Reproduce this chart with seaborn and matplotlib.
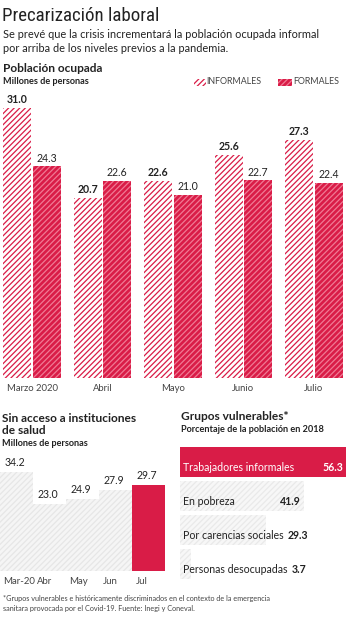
import matplotlib
matplotlib.use("Agg")
import matplotlib.pyplot as plt
import seaborn as sns
import pandas as pd
from matplotlib.patches import Rectangle
from matplotlib import font_manager as fm

# ---------------- data ----------------
meses = ["Marzo 2020", "Abril", "Mayo", "Junio", "Julio"]
informales = [31.0, 20.7, 22.6, 25.6, 27.3]
formales = [24.3, 22.6, 21.0, 22.7, 22.4]

salud_meses = ["Mar-20", "Abr", "May", "Jun", "Jul"]
salud_valores = [34.2, 23.0, 24.9, 27.9, 29.7]

grupos = ["Trabajadores informales", "En pobreza", "Por carencias sociales", "Personas desocupadas"]
grupos_valores = [56.3, 41.9, 29.3, 3.7]

# ---------------- style ----------------
sns.set_theme(style="white")
plt.rcParams['font.family'] = ['Lato', 'DejaVu Sans']
plt.rcParams['hatch.linewidth'] = 0.9

RED = "#d91c47"
PINK = "#f07a94"
DARK = "#222222"
GRAY_TXT = "#444444"
HATCH = "//////"

# pick a condensed face for the headline
title_kw = None
names = {f.name for f in fm.fontManager.ttflist}
for cand in ['Roboto Condensed', 'Liberation Sans Narrow', 'Open Sans Condensed']:
    if cand in names:
        title_kw = dict(family=[cand, 'DejaVu Sans'], fontsize=17)
        break
if title_kw is None:
    title_kw = dict(family=['Roboto', 'DejaVu Sans'], fontsize=14, fontweight='medium')

W, H = 346, 620
fig = plt.figure(figsize=(W / 100, H / 100), dpi=100)
fig.patch.set_facecolor("white")


def rect(x0, y0, x1, y1):
    return [x0 / W, 1 - y1 / H, (x1 - x0) / W, (y1 - y0) / H]


def ftxt(x, y, s, **kw):
    return fig.text(x / W, 1 - y / H, s, **kw)


def is_red(p):
    return all(abs(a - b) < 0.01 for a, b in zip(p.get_facecolor()[:3], matplotlib.colors.to_rgb(RED)))


# ---------------- header ----------------
title = ftxt(2, 16, "Precarización laboral", color=DARK, va="center", ha="left", **title_kw)
ftxt(3, 34, "Se prevé que la crisis incrementará la población ocupada informal",
     fontsize=7.9, color=DARK, va="center")
ftxt(3, 48, "por arriba de los niveles previos a la pandemia.",
     fontsize=7.9, color=DARK, va="center")
ftxt(3, 68, "Población ocupada", fontsize=8.6, fontweight="bold", color=DARK, va="center")
ftxt(3, 82, "Millones de personas", fontsize=6.6, fontweight="bold", color=DARK, va="center")

# fit headline width to ~158 px
fig.canvas.draw()
_r = fig.canvas.get_renderer()
_w = title.get_window_extent(_r).width
if _w > 0:
    title.set_fontsize(title.get_fontsize() * 158 / _w)

# legend
fig.add_artist(Rectangle((194 / W, 1 - 86 / H), 12 / W, 7 / H, transform=fig.transFigure,
                         facecolor="white", edgecolor=RED, hatch=HATCH, linewidth=0))
ftxt(206, 82, "INFORMALES", fontsize=6.4, color=GRAY_TXT, va="center")
fig.add_artist(Rectangle((278 / W, 1 - 86 / H), 14 / W, 7 / H, transform=fig.transFigure,
                         facecolor=RED, edgecolor=PINK, hatch=HATCH, linewidth=0))
ftxt(293, 82, "FORMALES", fontsize=6.4, color=GRAY_TXT, va="center")

# ---------------- main chart ----------------
ax = fig.add_axes(rect(0, 100, 346, 378))
df = pd.DataFrame({
    "mes": meses * 2,
    "valor": informales + formales,
    "tipo": ["Informales"] * len(meses) + ["Formales"] * len(meses),
})
sns.barplot(data=df, x="mes", y="valor", hue="tipo", order=meses,
            hue_order=["Informales", "Formales"], palette=["white", RED], saturation=1,
            width=0.83, gap=0.05, legend=False, ax=ax, linewidth=0)
for p in ax.containers[0]:
    p.set_facecolor("white")
    p.set_edgecolor(RED)
    p.set_hatch(HATCH)
    p.set_linewidth(0)
for p in ax.containers[1]:
    p.set_facecolor(RED)
    p.set_edgecolor(PINK)
    p.set_hatch(HATCH)
    p.set_linewidth(0)
ax.bar_label(ax.containers[0], fmt="%.1f", padding=2, fontsize=7.6, fontweight="bold", color=DARK)
ax.bar_label(ax.containers[1], fmt="%.1f", padding=2, fontsize=7.6, color=DARK)
ax.set_xlim(-0.454, 4.454)
ax.set_ylim(0, 31.92)
ax.set_yticks([])
ax.set_xlabel("")
ax.set_ylabel("")
ax.tick_params(axis="x", length=0, pad=4, labelsize=6.8, labelcolor=GRAY_TXT)
sns.despine(ax=ax, left=True, bottom=True)
ax.set_facecolor("none")

# ---------------- lower left chart ----------------
ftxt(2, 418, "Sin acceso a instituciones", fontsize=8.6, fontweight="bold", color=DARK, va="center")
ftxt(2, 431, "de salud", fontsize=8.6, fontweight="bold", color=DARK, va="center")
ftxt(2, 443, "Millones de personas", fontsize=6.6, fontweight="bold", color=DARK, va="center")

ax2 = fig.add_axes(rect(0, 460, 165, 571))
df2 = pd.DataFrame({"mes": salud_meses, "valor": salud_valores})
cols2 = ["#f5f5f5"] * (len(salud_meses) - 1) + [RED]
sns.barplot(data=df2, x="mes", y="valor", hue="mes", order=salud_meses, palette=cols2,
            saturation=1, width=1.0, legend=False, ax=ax2, linewidth=0)
for cont in ax2.containers:
    for p in cont:
        if not is_red(p):
            p.set_edgecolor("#e6e6e6")
            p.set_hatch(HATCH)
            p.set_linewidth(0)
ax2.set_xlim(-0.5, 4.5)
ax2.set_ylim(0, 38.3)
ax2.set_yticks([])
ax2.set_xticks([])
ax2.set_xlabel("")
ax2.set_ylabel("")
sns.despine(ax=ax2, left=True, bottom=True)
ax2.set_facecolor("none")
for i, v in enumerate(salud_valores):
    ax2.annotate(f"{v:.1f}", xy=(i - 0.5, v), xytext=(3, 3), textcoords="offset points",
                 ha="left", va="bottom", fontsize=7.6, color=DARK)
    ax2.annotate(salud_meses[i], xy=(i - 0.5, 0), xytext=(2.5, -4), textcoords="offset points",
                 ha="left", va="top", fontsize=6.9, color=GRAY_TXT)

# ---------------- right chart ----------------
ftxt(181, 416, "Grupos vulnerables*", fontsize=8.6, fontweight="bold", color=DARK, va="center")
ftxt(181, 430, "Porcentaje de la población en 2018", fontsize=6.6, fontweight="bold",
     color=DARK, va="center")

ax3 = fig.add_axes(rect(180, 445, 346, 581))
df3 = pd.DataFrame({"grupo": grupos, "valor": grupos_valores})
cols3 = [RED] + ["#f7f7f7"] * (len(grupos) - 1)
sns.barplot(data=df3, y="grupo", x="valor", hue="grupo", order=grupos, palette=cols3,
            saturation=1, orient="h", width=0.88, legend=False, ax=ax3, linewidth=0)
for cont in ax3.containers:
    for p in cont:
        if not is_red(p):
            p.set_edgecolor("#e9e9e9")
            p.set_hatch(HATCH)
            p.set_linewidth(0)
ax3.set_xlim(0, 56.3)
ax3.set_ylim(3.5, -0.5)
ax3.set_xticks([])
ax3.set_yticks([])
ax3.set_xlabel("")
ax3.set_ylabel("")
sns.despine(ax=ax3, left=True, bottom=True)
ax3.set_facecolor("none")

fig.canvas.draw()
renderer = fig.canvas.get_renderer()
for i, (g, v) in enumerate(zip(grupos, grupos_valores)):
    first = i == 0
    col = "white" if first else DARK
    t = ax3.annotate(g, xy=(0, i + 0.44), xytext=(2, 3), textcoords="offset points",
                     ha="left", va="bottom", fontsize=7.6, color=col)
    bb = t.get_window_extent(renderer)
    vt = ax3.annotate(f"{v:.1f}", xy=(v, i + 0.44), xytext=(-2, 3), textcoords="offset points",
                      ha="right", va="bottom", fontsize=7.6, fontweight="bold", color=col)
    vb = vt.get_window_extent(renderer)
    if vb.x0 < bb.x1 + 4:
        shift = (bb.x1 + 4 - vb.x0) * 72 / fig.dpi
        vt.set_position((-2 + shift, 3))

# ---------------- footnote ----------------
ftxt(3, 598, "*Grupos vulnerables e históricamente discriminados en el contexto de la emergencia",
     fontsize=5.2, color=GRAY_TXT, va="center")
ftxt(3, 608, "sanitara provocada por el Covid-19. Fuente: Inegi y Coneval.",
     fontsize=5.2, color=GRAY_TXT, va="center")

fig.savefig("out.png", dpi=100, facecolor="white")
